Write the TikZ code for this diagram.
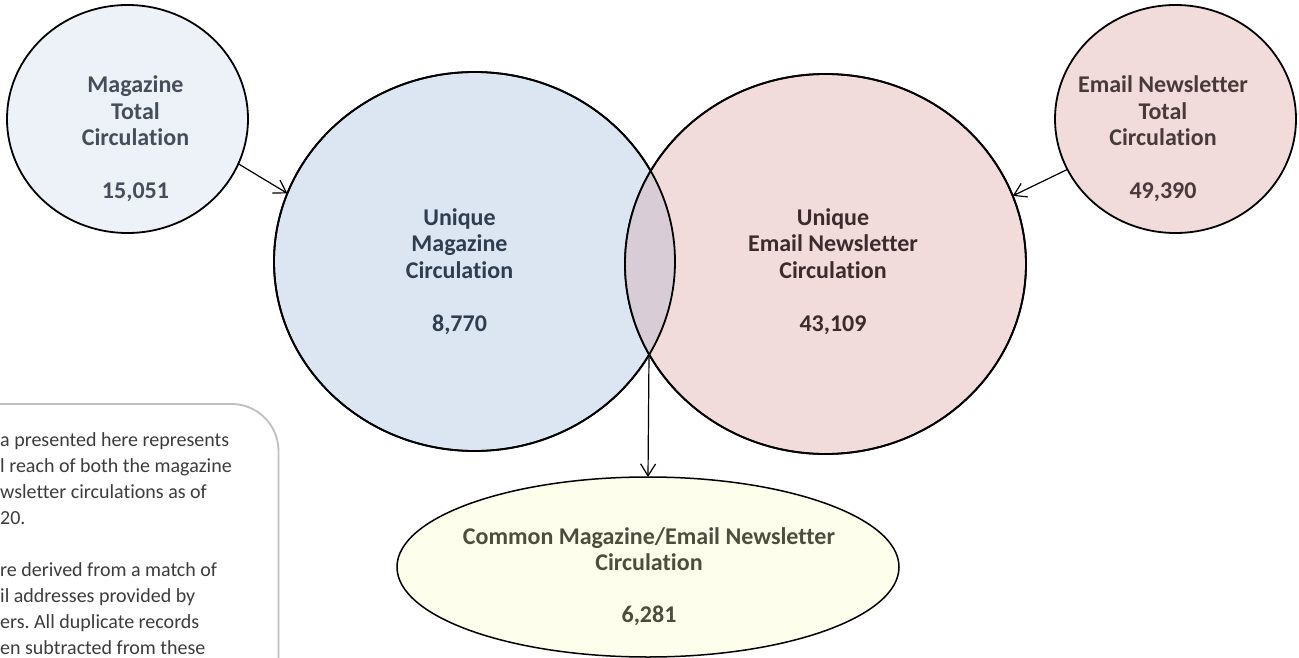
\documentclass[tikz,border=0pt]{standalone}
\usepackage{fontspec}
\setmainfont{Carlito}[Ligatures=NoCommon]
\frenchspacing
\usetikzlibrary{shapes.geometric,arrows.meta}
\definecolor{smallblue}{HTML}{EDF2F9}
\definecolor{bigblue}{HTML}{DCE6F2}
\definecolor{bigpink}{HTML}{F2DCDB}
\definecolor{lenscol}{HTML}{D8CCD6}
\definecolor{cream}{HTML}{FEFEEC}
\definecolor{boxgray}{HTML}{BFBFBF}
\definecolor{txtsb}{HTML}{454E5A}
\definecolor{txtbb}{HTML}{2F3D50}
\definecolor{txtpk}{HTML}{3C2B2D}
\definecolor{txtspk}{HTML}{48393B}
\definecolor{txtcm}{HTML}{4D4D3D}
\definecolor{txtnote}{HTML}{3C3C3C}
\begin{document}
\begin{tikzpicture}[x=1pt,y=-1pt,
  shp/.style={ellipse, draw=black, line width=1.8pt, inner sep=0pt, outer sep=0pt},
  lbl/.style={align=center, font=\fontsize{24}{26.5}\selectfont\bfseries, inner sep=0pt, anchor=base},
  note/.style={align=left, font=\fontsize{20}{26}\selectfont, text=txtnote, inner sep=0pt, anchor=base west},
  arr/.style={line width=1.2pt, -{Straight Barb[length=12pt,width=15pt]}},
  outl/.style={draw=black, line width=1.8pt}
]
\useasboundingbox (0,0) rectangle (1299,658);
\clip (0,0) rectangle (1299,658);
\fill[white] (0,0) rectangle (1299,658);

% note box
\draw[draw=boxgray, line width=1.8pt, rounded corners=47pt, fill=white] (-60,404) rectangle (278.5,720);
\node[note] (notetext) at (0,654) {a presented here represents\\l reach of both the magazine\\wsletter circulations as of\\20.\\[26pt]re derived from a match of\\il addresses provided by\\ers. All duplicate records\\en subtracted from these};

% total circles
\node[shp, fill=smallblue, minimum width=241pt, minimum height=228pt] (magtot) at (127.5,119) {};
\node[shp, fill=bigpink, minimum width=241pt, minimum height=228pt] (emtot) at (1175.5,119) {};

% big circles
\node[shp, fill=bigblue, minimum width=401pt, minimum height=379pt] (umag) at (474.5,261.5) {};
\node[shp, fill=bigpink, minimum width=401pt, minimum height=380pt] (uem) at (825.5,264) {};
\begin{scope}
  \clip (474.5,261.5) ellipse [x radius=200.5pt, y radius=189.5pt];
  \fill[lenscol] (825.5,264) ellipse [x radius=200.5pt, y radius=190pt];
\end{scope}
\draw[outl] (umag.center) ellipse [x radius=200.5pt, y radius=189.5pt];
\draw[outl] (uem.center) ellipse [x radius=200.5pt, y radius=190pt];

% common ellipse
\node[shp, fill=cream, line width=1.5pt, minimum width=502pt, minimum height=180pt] (common) at (648,567) {};

% labels (anchor base = last line's baseline)
\node[lbl, text=txtsb] (tmagtot) at (135.5,198.5) {Magazine\\Total\\Circulation\\[26.5pt]15,051};
\node[lbl, text=txtspk] (temtot) at (1163,198.5) {Email Newsletter\\Total\\Circulation\\[26.5pt]49,390};
\node[lbl, text=txtbb] (tumag) at (459.5,331) {Unique\\Magazine\\Circulation\\[26.5pt]8,770};
\node[lbl, text=txtpk] (tuem) at (833,331) {Unique\\Email Newsletter\\Circulation\\[26.5pt]43,109};
\node[lbl, text=txtcm, font=\fontsize{24}{26}\selectfont\bfseries] (tcommon) at (649,622) {Common Magazine/Email Newsletter\\Circulation\\[26pt]6,281};

% connectors
\coordinate (lensb) at (649,355);
\draw[arr] (magtot.-22) -- (umag.160);
\draw[arr] (emtot.205) -- (uem.20);
\draw[arr] (lensb) -- (common.north);
\end{tikzpicture}
\end{document}
